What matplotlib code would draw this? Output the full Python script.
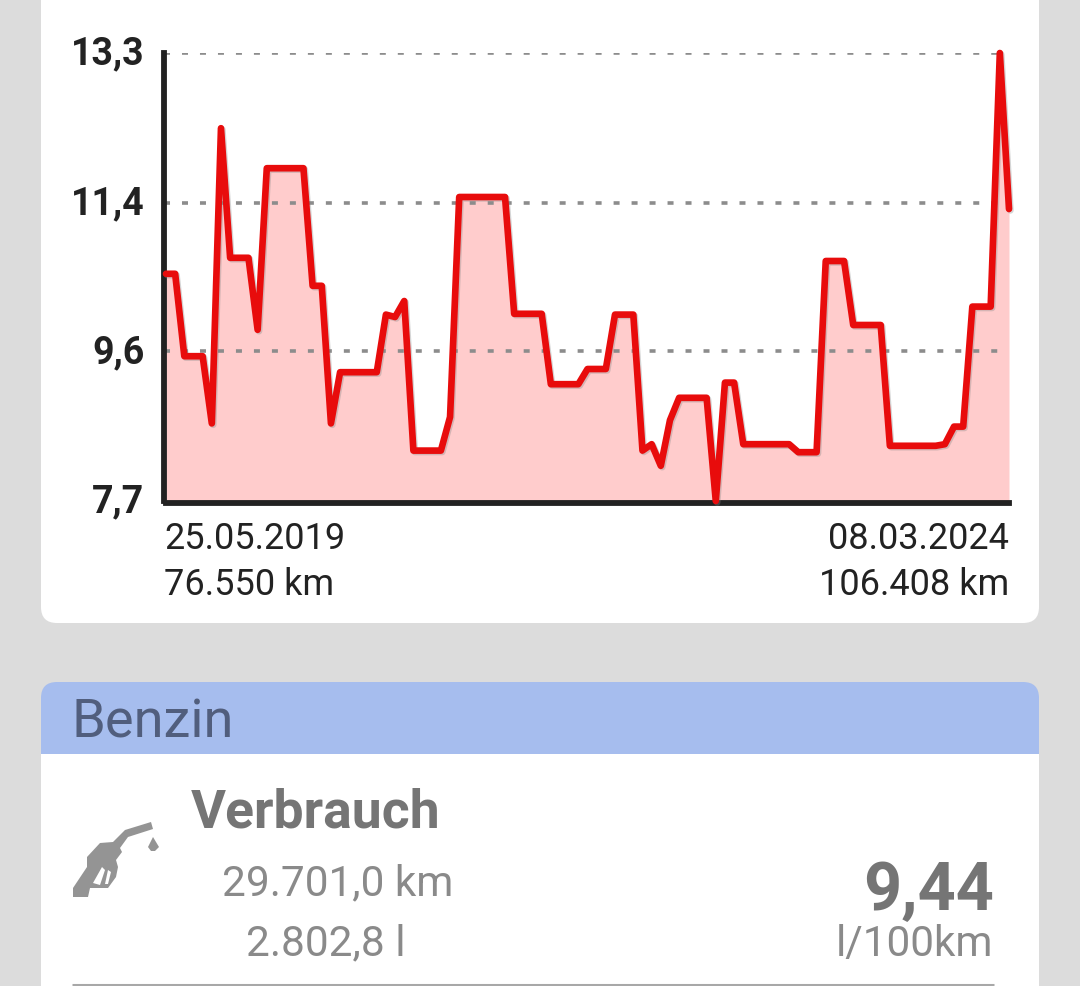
import matplotlib
matplotlib.use('Agg')
import matplotlib.pyplot as plt
import matplotlib.patheffects as pe
from matplotlib.patches import FancyBboxPatch, Rectangle, Polygon
from matplotlib.transforms import ScaledTranslation

plt.rcParams['font.family'] = ['Roboto', 'DejaVu Sans']

# consumption per refuelling, l/100km
verbrauch = [10.54, 10.54, 9.51, 9.51, 9.51, 8.67, 12.36, 10.74, 10.74, 10.74,
             9.84, 11.86, 11.86, 11.86, 11.86, 11.86, 10.39, 10.39, 8.67, 9.31,
             9.31, 9.31, 9.31, 9.31, 10.03, 10.0, 10.2, 8.33, 8.33, 8.33,
             8.33, 8.75, 11.5, 11.5, 11.5, 11.5, 11.5, 11.5, 10.04, 10.04,
             10.04, 10.04, 9.16, 9.16, 9.16, 9.16, 9.35, 9.35, 9.35, 10.03,
             10.03, 10.03, 8.33, 8.41, 8.14, 8.71, 8.99, 8.99, 8.99, 8.99,
             7.7, 9.18, 9.18, 8.41, 8.41, 8.41, 8.41, 8.41, 8.41, 8.31,
             8.31, 8.31, 10.7, 10.7, 10.7, 9.9, 9.9, 9.9, 9.9, 8.39,
             8.39, 8.39, 8.39, 8.39, 8.39, 8.41, 8.63, 8.63, 10.13, 10.13,
             10.13, 13.3, 11.35]
y_ticks = [7.7, 9.57, 11.43, 13.3]
y_labels = ['7,7', '9,6', '11,4', '13,3']
x_labels = ['25.05.2019\n76.550 km', '08.03.2024\n106.408 km']

W, H = 1080, 986
fig = plt.figure(figsize=(W / 100, H / 100), dpi=100, facecolor='#dcdcdc')

# page background in pixel coordinates
bg = fig.add_axes([0, 0, 1, 1])
bg.set_xlim(0, W)
bg.set_ylim(H, 0)
bg.axis('off')

bg.add_patch(FancyBboxPatch((41, -60), 998, 683, boxstyle='round,pad=0,rounding_size=16',
                            fc='white', ec='none'))
bg.add_patch(FancyBboxPatch((41, 682), 998, 120, boxstyle='round,pad=0,rounding_size=16',
                            fc='#a6bdee', ec='none'))
bg.add_patch(Rectangle((41, 754), 998, 240, fc='white', ec='none'))
bg.plot([72, 994], [984.5, 984.5], color='#a8a8a8', lw=2.2, solid_capstyle='butt')

bg.text(72, 738, 'Benzin', fontsize=39, color='#515e7d', ha='left', va='baseline')
bg.text(191, 827, 'Verbrauch', fontsize=38.5, fontweight='bold', color='#757575', ha='left', va='baseline')
bg.text(338, 895, '29.701,0 km', fontsize=30.5, color='#8a8a8a', ha='center', va='baseline')
bg.text(326, 955, '2.802,8 l', fontsize=30.5, color='#8a8a8a', ha='center', va='baseline')
bg.text(994, 910, '9,44', fontsize=48, fontweight='bold', color='#757575', ha='right', va='baseline')
bg.text(993, 956, 'l/100km', fontsize=30.5, color='#8a8a8a', ha='right', va='baseline')

# fuel nozzle icon
icon = '#949494'
bg.add_patch(Polygon([(73, 888), (87, 867), (87, 857), (100, 843), (113, 842), (125, 830),
                      (151, 822), (153, 829), (128, 837), (120, 848), (122, 852), (116, 860),
                      (118, 867), (116, 877), (108, 888), (90, 888), (88, 897), (73, 897)],
                     fc=icon, ec='none'))
bg.add_patch(Polygon([(102, 867), (93, 883), (100, 885), (105, 870)], fc='white', ec='none'))
bg.add_patch(Polygon([(108, 870), (105, 884), (108, 884), (111, 872)], fc='white', ec='none'))
bg.add_patch(Polygon([(153, 837), (159, 847), (155, 851), (151, 851), (148, 847)], fc=icon, ec='none'))

# chart
ax = fig.add_axes([166 / W, 1 - 501 / H, (1009 - 166) / W, (501 - 53) / H])
ax.patch.set_alpha(0)

# set_position resets the ticks, so the spines come first
ax.spines['top'].set_visible(False)
ax.spines['right'].set_visible(False)
for side in ['left', 'bottom']:
    ax.spines[side].set_linewidth(4.2)
    ax.spines[side].set_color('#222222')
    ax.spines[side].set_position(('outward', 1.5))
    ax.spines[side].set_zorder(1.8)

x = list(range(len(verbrauch)))
ax.fill_between(x, verbrauch, 7.7, color='#ffcccc', lw=0)
ax.plot(x, verbrauch, color='#e80c0c', lw=4.8, clip_on=False, solid_joinstyle='round',
        solid_capstyle='round',
        path_effects=[pe.SimpleLineShadow(offset=(1, -1), shadow_color='#888888', alpha=0.35),
                      pe.Normal()])
ax.set_xlim(0, 92)
ax.set_ylim(7.7, 13.3)

ax.set_axisbelow('line')
ax.grid(True, axis='y', color='#8c8c8c', lw=2.6, linestyle=(0.55, (1.66, 3.32)))
ax.set_yticks(y_ticks, y_labels)
ax.set_xticks([0, 92], x_labels)
ax.get_ygridlines()[0].set_visible(False)
ax.tick_params(axis='y', length=0, pad=14, labelsize=27, labelcolor='#222222')
ax.tick_params(axis='x', length=0, pad=13, labelsize=26, labelcolor='#222222')
for lab in ax.get_yticklabels():
    lab.set_fontweight('bold')
    lab.set_va('center_baseline')
    # digits sit a little above the tick in the original
    lab.set_transform(lab.get_transform() + ScaledTranslation(0, 3 / 100, fig.dpi_scale_trans))
first, last = ax.get_xticklabels()
first.set_ha('left')
first.set_transform(first.get_transform() + ScaledTranslation(-2 / 100, 0, fig.dpi_scale_trans))
last.set_ha('right')
for lab in (first, last):
    lab.set_linespacing(1.37)

plt.savefig('out.png', dpi=100, facecolor=fig.get_facecolor())
